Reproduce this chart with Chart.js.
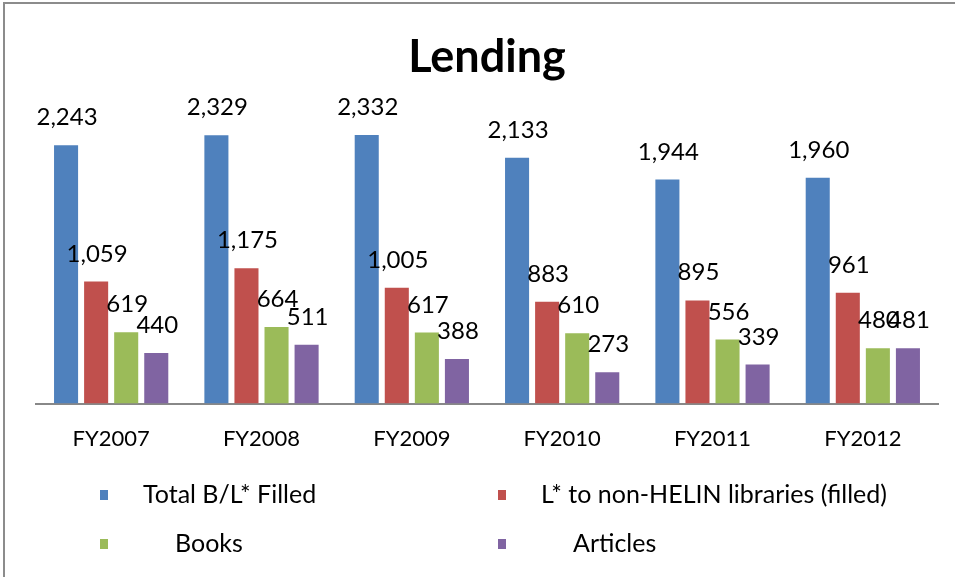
<!DOCTYPE html>
<html>
<head>
<meta charset="utf-8">
<script src="https://cdn.jsdelivr.net/npm/chart.js@4"></script>
<style>
  html, body { margin: 0; padding: 0; background: #fff; }
  #wrap { position: relative; width: 955px; height: 577px; overflow: hidden; }
  #frame { position: absolute; left: 3px; top: 2px; width: 970px; height: 600px; border: 2px solid #8c8c8c; box-sizing: border-box; }
  canvas { position: absolute; left: 0; top: 0; }
</style>
</head>
<body>
<div id="wrap">
  <div id="frame"></div>
  <canvas id="lendingChart" width="955" height="577"></canvas>
</div>
<script>
/* Lending chart */
const years = ['FY2007', 'FY2008', 'FY2009', 'FY2010', 'FY2011', 'FY2012'];
const totalFilled = [2243, 2329, 2332, 2133, 1944, 1960];
const nonHelin = [1059, 1175, 1005, 883, 895, 961];
const books = [619, 664, 617, 610, 556, 480];
const articles = [440, 511, 388, 273, 339, 481];
const seriesNames = ['Total B/L* Filled', 'L* to non-HELIN libraries (filled)', '     Books', '     Articles'];
const seriesColors = ['#4F81BD', '#C0504D', '#9BBB59', '#8064A2'];

const fmt = v => v.toLocaleString('en-US');

// value labels above each bar
const barLabels = {
  id: 'barLabels',
  afterDatasetsDraw(chart) {
    const ctx = chart.ctx;
    ctx.save();
    ctx.font = '24px Lato, "Open Sans", sans-serif';
    ctx.fillStyle = '#000';
    ctx.textAlign = 'center';
    ctx.textBaseline = 'alphabetic';
    chart.data.datasets.forEach((ds, i) => {
      chart.getDatasetMeta(i).data.forEach((bar, j) => {
        ctx.fillText(fmt(ds.data[j]), bar.x + 1, bar.y - 20);
      });
    });
    ctx.restore();
  }
};

// two-column legend under the axis
const gridLegend = {
  id: 'gridLegend',
  afterDraw(chart) {
    const ctx = chart.ctx;
    ctx.save();
    ctx.font = '25px Lato, "Open Sans", sans-serif';
    ctx.textBaseline = 'middle';
    chart.data.datasets.forEach((ds, i) => {
      const col = i % 2, row = Math.floor(i / 2);
      const x = 100 + col * 398;
      const y = 495 + row * 49;
      ctx.fillStyle = ds.backgroundColor;
      ctx.fillRect(x, y - 5, 8, 10);
      ctx.fillStyle = '#000';
      ctx.fillText(ds.label, x + 43, y);
    });
    ctx.restore();
  }
};

const datasets = [totalFilled, nonHelin, books, articles].map((d, i) => ({
  label: seriesNames[i],
  data: d,
  backgroundColor: seriesColors[i],
  barPercentage: 0.8,
  categoryPercentage: 0.8
}));

new Chart(document.getElementById('lendingChart').getContext('2d'), {
  type: 'bar',
  data: { labels: years, datasets },
  options: {
    responsive: false,
    animation: false,
    layout: { padding: { left: 36, right: 17, top: 0, bottom: 103 } },
    plugins: {
      legend: { display: false },
      tooltip: { enabled: false },
      title: {
        display: true,
        text: 'Lending',
        color: '#000',
        font: { family: 'Lato, sans-serif', size: 45, weight: 'bold' },
        padding: { top: 30, bottom: 20 }
      }
    },
    scales: {
      x: {
        grid: { display: false, drawTicks: false },
        border: { color: '#888', width: 2 },
        ticks: { color: '#000', font: { family: 'Lato, sans-serif', size: 22 }, padding: 22 }
      },
      y: {
        display: false,
        min: 0,
        max: 2600
      }
    }
  },
  plugins: [barLabels, gridLegend]
});
</script>
</body>
</html>
